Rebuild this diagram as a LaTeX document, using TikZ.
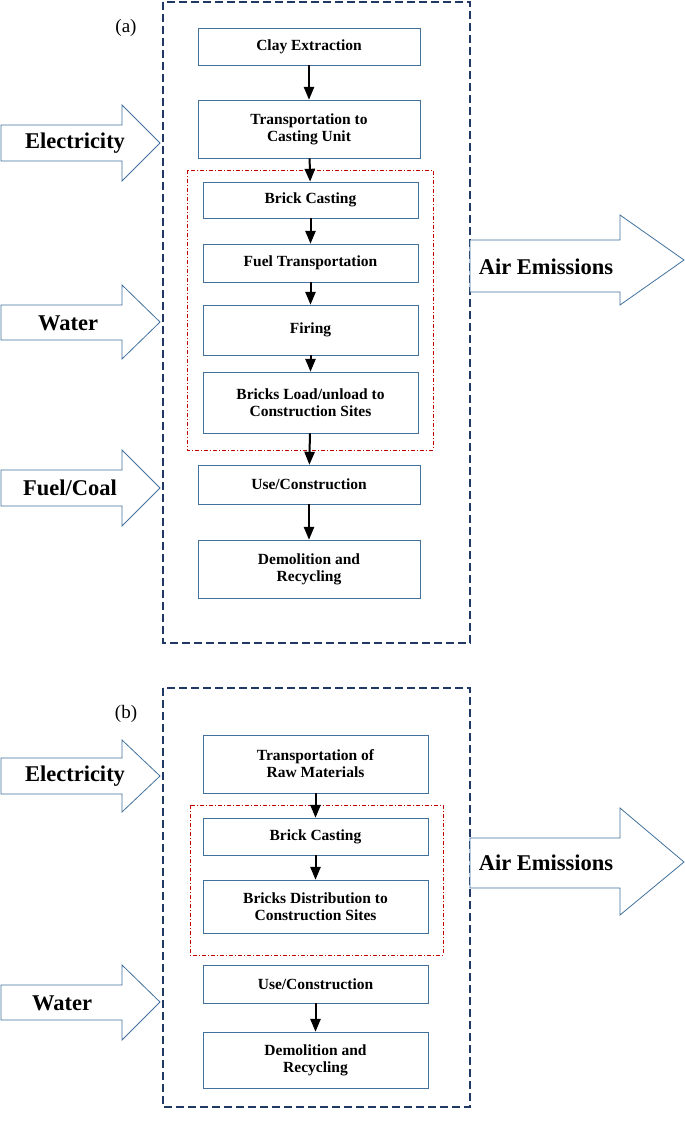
\documentclass[tikz,border=0pt]{standalone}
\usepackage{fontspec}
\setmainfont{Liberation Serif}
\usetikzlibrary{arrows}
\definecolor{boxblue}{RGB}{65,113,156}
\definecolor{navy}{RGB}{31,56,100}
\definecolor{darkred}{RGB}{192,0,0}
\tikzset{
stage/.style={rectangle, draw=boxblue, line width=0.9pt, align=center, font=\bfseries\fontsize{15.5}{17}\selectfont, inner sep=1pt},
flow/.style={draw=boxblue, line width=0.8pt, fill=white},
flowtext/.style={font=\bfseries\fontsize{22.5}{25}\selectfont},
outer/.style={draw=navy, line width=1.5pt, dash pattern=on 8pt off 4pt},
inner/.style={draw=darkred, line width=0.7pt, dash pattern=on 4pt off 2pt on 1pt off 2pt},
link/.style={-triangle 45, line width=2pt}
}
\begin{document}
\begin{tikzpicture}[x=1pt,y=-1pt]
\useasboundingbox (0,0) rectangle (685,1141);

% panel (a)
\draw[outer] (163,2) rectangle (470,643);
\node[font=\fontsize{19}{22}\selectfont] (la) at (126,28) {(a)};
\draw[inner] (187,170) rectangle (433,450);

\node[stage, minimum width=222, minimum height=37] (clay) at (309,46.5) {Clay Extraction};
\node[stage, minimum width=222, minimum height=58] (trans) at (309,129) {Transportation to\\Casting Unit};
\node[stage, minimum width=215, minimum height=36] (cast) at (310.5,200) {Brick Casting};
\node[stage, minimum width=215, minimum height=38] (fuel) at (310.5,263) {Fuel Transportation};
\node[stage, minimum width=215, minimum height=50] (fire) at (310.5,330) {Firing};
\node[stage, minimum width=215, minimum height=61] (load) at (310.5,402.5) {Bricks Load/unload to\\Construction Sites};
\node[stage, minimum width=222, minimum height=39] (use) at (309,484.5) {Use/Construction};
\node[stage, minimum width=222, minimum height=58] (demo) at (309,569) {Demolition and\\Recycling};

\draw[link] (clay) -- (trans);
\draw[link] (trans) -- (cast);
\draw[link] (cast) -- (fuel);
\draw[link] (fuel) -- (fire);
\draw[link] (fire) -- (load);
\draw[link] (load) -- (use);
\draw[link] (use) -- (demo);

% inputs and outputs (a)
\draw[flow] (1,125) -- (122,125) -- (122,105) -- (160,143) -- (122,181) -- (122,161) -- (1,161) -- cycle;
\node[flowtext] (elec) at (75,143) {Electricity};
\draw[flow] (1,305) -- (122,305) -- (122,285) -- (160,322) -- (122,359) -- (122,340) -- (1,340) -- cycle;
\node[flowtext] (water) at (68,323) {Water};
\draw[flow] (1,470) -- (122,470) -- (122,450) -- (160,488) -- (122,526) -- (122,506) -- (1,506) -- cycle;
\node[flowtext] (coal) at (70,488) {Fuel/Coal};
\draw[flow] (470,240) -- (620,240) -- (620,215) -- (684,260) -- (620,305) -- (620,292) -- (470,292) -- cycle;
\node[flowtext] (air) at (546,267) {Air Emissions};

% panel (b)
\draw[outer] (163,688) rectangle (470,1107);
\node[font=\fontsize{19}{22}\selectfont] (lb) at (126,714) {(b)};
\draw[inner] (190,805) rectangle (443,955);

\node[stage, minimum width=225, minimum height=58] (raw) at (315.5,764) {Transportation of\\Raw Materials};
\node[stage, minimum width=225, minimum height=37] (castb) at (315.5,836.5) {Brick Casting};
\node[stage, minimum width=225, minimum height=53] (dist) at (315.5,906.5) {Bricks Distribution to\\Construction Sites};
\node[stage, minimum width=225, minimum height=38] (useb) at (315.5,984) {Use/Construction};
\node[stage, minimum width=225, minimum height=56] (demob) at (315.5,1060) {Demolition and\\Recycling};

\draw[link] (raw) -- (castb);
\draw[link] (castb) -- (dist);
\draw[link] (useb) -- (demob);

% inputs and outputs (b)
\draw[flow] (1,758) -- (122,758) -- (122,740) -- (160,776) -- (122,812) -- (122,794) -- (1,794) -- cycle;
\node[flowtext] (elecb) at (75,776) {Electricity};
\draw[flow] (1,985) -- (122,985) -- (122,965) -- (160,1002) -- (122,1040) -- (122,1020) -- (1,1020) -- cycle;
\node[flowtext] (waterb) at (62,1003) {Water};
\draw[flow] (470,838) -- (620,838) -- (620,808) -- (684,862) -- (620,915) -- (620,888) -- (470,888) -- cycle;
\node[flowtext] (airb) at (546,863) {Air Emissions};
\end{tikzpicture}
\end{document}
